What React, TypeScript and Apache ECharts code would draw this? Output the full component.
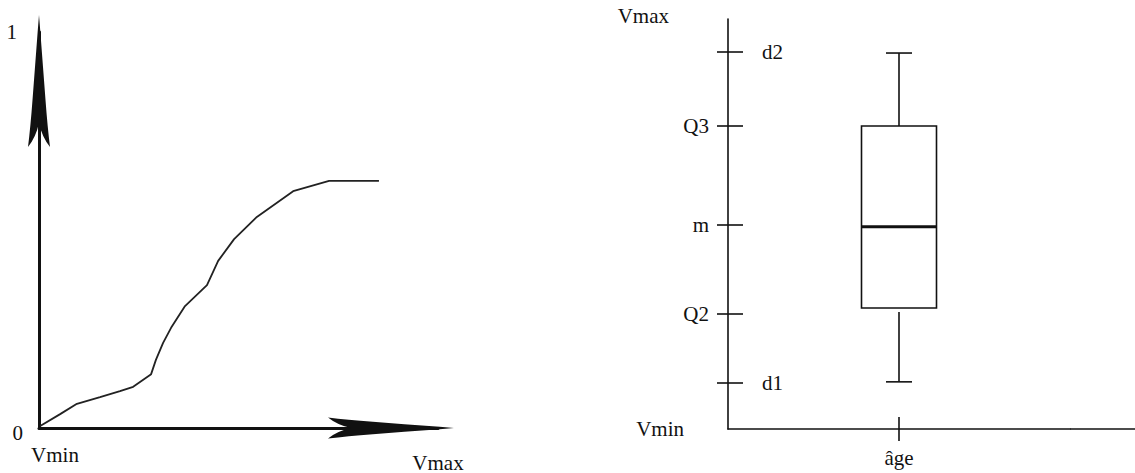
import React, { useEffect, useRef } from "react";
import * as echarts from "echarts";

// ---- Left chart: cumulative curve ----
const CURVE_X = [0.3, 5.3, 9.5, 15.3, 20.3, 23.6, 28.1, 29.3, 31.1, 33.1, 36.6, 42.1, 44.9, 48.9, 54.6, 63.7, 72.7, 85.2];
const CURVE_Y = [0.005, 0.035, 0.061, 0.078, 0.093, 0.104, 0.136, 0.172, 0.215, 0.253, 0.308, 0.361, 0.422, 0.477, 0.533, 0.598, 0.624, 0.624];
const LEFT_Y_TICKS = [0, 1];
const LEFT_Y_LABELS = ["0", "1"];
const LEFT_X_TICKS = [0, 100];
const LEFT_X_LABELS = ["Vmin", "Vmax"];

// ---- Right chart: box plot ----
const CATEGORIES = ["âge"];
const BOX = [11.5, 29.5, 49.3, 73.9, 91.7]; // lower whisker, Q1, median, Q3, upper whisker
const TICK_VALUES = [11.2, 28.0, 49.8, 73.9, 92.0];
const TICK_LABELS = ["d1", "Q2", "m", "Q3", "d2"];
const OUTER_LABEL_VALUES = [0, 28.0, 49.8, 73.9, 100];
const OUTER_LABELS = ["Vmin", "Q2", "m", "Q3", "Vmax"];
const INNER_LABEL_VALUES = [11.2, 92.0];
const INNER_LABELS = ["d1", "d2"];

const FONT = "Liberation Serif";
const INK = "#111";
const ARROW =
  "path://M11 0 L12.2 15 L15 52 L17.5 85 Q19.5 112 22 132 Q14 122 11 108 Q8 122 0 132 Q2.5 112 4.5 85 L7 52 L9.8 15 Z";

const txt = (extra: any = {}) => ({ fontFamily: FONT, fontSize: 21, color: INK, ...extra });

function lookup(values: number[], labels: string[], v: number) {
  let best = 0;
  for (let i = 0; i < values.length; i++) {
    if (Math.abs(values[i] - v) < Math.abs(values[best] - v)) best = i;
  }
  return labels[best];
}

export default function App() {
  const ref = useRef<HTMLDivElement>(null);

  useEffect(() => {
    if (!ref.current) return;
    const chart = echarts.init(ref.current, undefined, { renderer: "svg" });
    const curve = CURVE_X.map((x, i) => [x, CURVE_Y[i]]);

    const option: any = {
      animation: false,
      backgroundColor: "#fff",
      grid: [
        { left: 39, top: 32, width: 399, height: 396 },
        { left: 728, top: 19, width: 342, height: 410 },
      ],
      xAxis: [
        {
          gridIndex: 0,
          type: "value",
          position: "bottom",
          min: 0,
          max: 100,
          splitLine: { show: false },
          axisTick: { show: false },
          axisLine: {
            show: true,
            onZero: false,
            lineStyle: { color: INK, width: 3 },
            symbol: ["none", ARROW],
            symbolSize: [21, 128],
            symbolOffset: [0, -47],
          },
          axisLabel: {
            customValues: LEFT_X_TICKS,
            margin: 16,
            ...txt(),
            formatter: (v: number) => {
              const l = lookup(LEFT_X_TICKS, LEFT_X_LABELS, v);
              return l === "Vmin" ? `{a|${l}}` : `{b|${l}}`;
            },
            rich: {
              a: txt({ padding: [0, 0, 0, 32] }),
              b: txt({ padding: [8, 0, 0, 0] }),
            },
          },
        },
        {
          gridIndex: 1,
          type: "category",
          position: "bottom",
          data: CATEGORIES,
          boundaryGap: true,
          axisLine: {
            show: true,
            lineStyle: { color: INK, width: 1.6 },
            symbol: ["none", "rect"],
            symbolSize: [1.6, 65],
            symbolOffset: [0, 32.5],
          },
          axisTick: { show: true, alignWithLabel: true, length: 12, lineStyle: { color: INK, width: 1.6 } },
          axisLabel: { margin: 18, ...txt() },
        },
        {
          gridIndex: 1,
          type: "category",
          position: "bottom",
          data: CATEGORIES,
          boundaryGap: true,
          axisLine: { show: false },
          axisTick: { show: true, inside: true, alignWithLabel: true, length: 12, lineStyle: { color: INK, width: 1.6 } },
          axisLabel: { show: false },
        },
      ],
      yAxis: [
        {
          gridIndex: 0,
          type: "value",
          position: "left",
          min: 0,
          max: 1,
          splitLine: { show: false },
          axisTick: { show: false },
          axisLine: {
            show: true,
            lineStyle: { color: INK, width: 3 },
            symbol: ["none", ARROW],
            symbolSize: [22, 132],
            symbolOffset: [0, -49],
          },
          axisLabel: {
            customValues: LEFT_Y_TICKS,
            margin: 16,
            ...txt(),
            formatter: (v: number) => {
              const l = lookup(LEFT_Y_TICKS, LEFT_Y_LABELS, v);
              return l === "0" ? `{a|${l}}` : `{b|${l}}`;
            },
            rich: {
              a: txt({ padding: [10, 0, 0, 0] }),
              b: txt({ padding: [0, 6, 0, 0] }),
            },
          },
        },
        {
          gridIndex: 1,
          type: "value",
          position: "left",
          min: 0,
          max: 100,
          splitLine: { show: false },
          axisLine: { show: true, lineStyle: { color: INK, width: 1.6 } },
          axisTick: { show: true, customValues: TICK_VALUES, length: 11, lineStyle: { color: INK, width: 1.6 } },
          axisLabel: {
            customValues: OUTER_LABEL_VALUES,
            margin: 19,
            ...txt(),
            formatter: (v: number) => {
              const l = lookup(OUTER_LABEL_VALUES, OUTER_LABELS, v);
              if (l === "Vmax") return `{mx|${l}}`;
              if (l === "Vmin") return `{mn|${l}}`;
              return `{n|${l}}`;
            },
            rich: {
              mx: txt({ padding: [0, 40, 6, 0] }),
              mn: txt({ padding: [0, 25, 0, 0] }),
              n: txt(),
            },
          },
        },
        {
          gridIndex: 1,
          type: "value",
          position: "left",
          min: 0,
          max: 100,
          splitLine: { show: false },
          axisLine: { show: false },
          axisTick: { show: true, inside: true, customValues: TICK_VALUES, length: 15, lineStyle: { color: INK, width: 1.6 } },
          axisLabel: {
            inside: true,
            customValues: INNER_LABEL_VALUES,
            margin: 34,
            ...txt(),
            formatter: (v: number) => lookup(INNER_LABEL_VALUES, INNER_LABELS, v),
          },
        },
      ],
      series: [
        {
          type: "line",
          xAxisIndex: 0,
          yAxisIndex: 0,
          data: curve,
          showSymbol: false,
          lineStyle: { color: "#222", width: 1.8 },
        },
        {
          type: "custom",
          xAxisIndex: 1,
          yAxisIndex: 1,
          data: [[0, ...BOX]],
          encode: { x: 0, y: [1, 2, 3, 4, 5] },
          renderItem: (params: any, api: any) => {
            const c = api.value(0);
            const cx = api.coord([c, api.value(3)])[0];
            const yv = (i: number) => api.coord([c, api.value(i)])[1];
            const yLo = yv(1), yQ1 = yv(2), yMed = yv(3), yQ3 = yv(4), yHi = yv(5);
            const half = 37.5;
            const cap = 13;
            const s = { stroke: INK, lineWidth: 1.6, fill: "none" };
            return {
              type: "group",
              children: [
                { type: "rect", shape: { x: cx - half, y: yQ3, width: half * 2, height: yQ1 - yQ3 }, style: { fill: "#fff", stroke: INK, lineWidth: 1.6 } },
                { type: "line", shape: { x1: cx - half, y1: yMed, x2: cx + half, y2: yMed }, style: { stroke: INK, lineWidth: 3 } },
                { type: "line", shape: { x1: cx, y1: yQ3, x2: cx, y2: yHi }, style: s },
                { type: "line", shape: { x1: cx - cap, y1: yHi, x2: cx + cap, y2: yHi }, style: s },
                { type: "line", shape: { x1: cx, y1: yQ1 + 4, x2: cx, y2: yLo }, style: s },
                { type: "line", shape: { x1: cx - cap, y1: yLo, x2: cx + cap, y2: yLo }, style: s },
              ],
            };
          },
        },
      ],
    };

    chart.setOption(option);
    return () => chart.dispose();
  }, []);

  return (
    <div
      ref={ref}
      style={{ position: "fixed", left: 0, top: 0, width: 1135, height: 473, background: "#fff" }}
    />
  );
}
